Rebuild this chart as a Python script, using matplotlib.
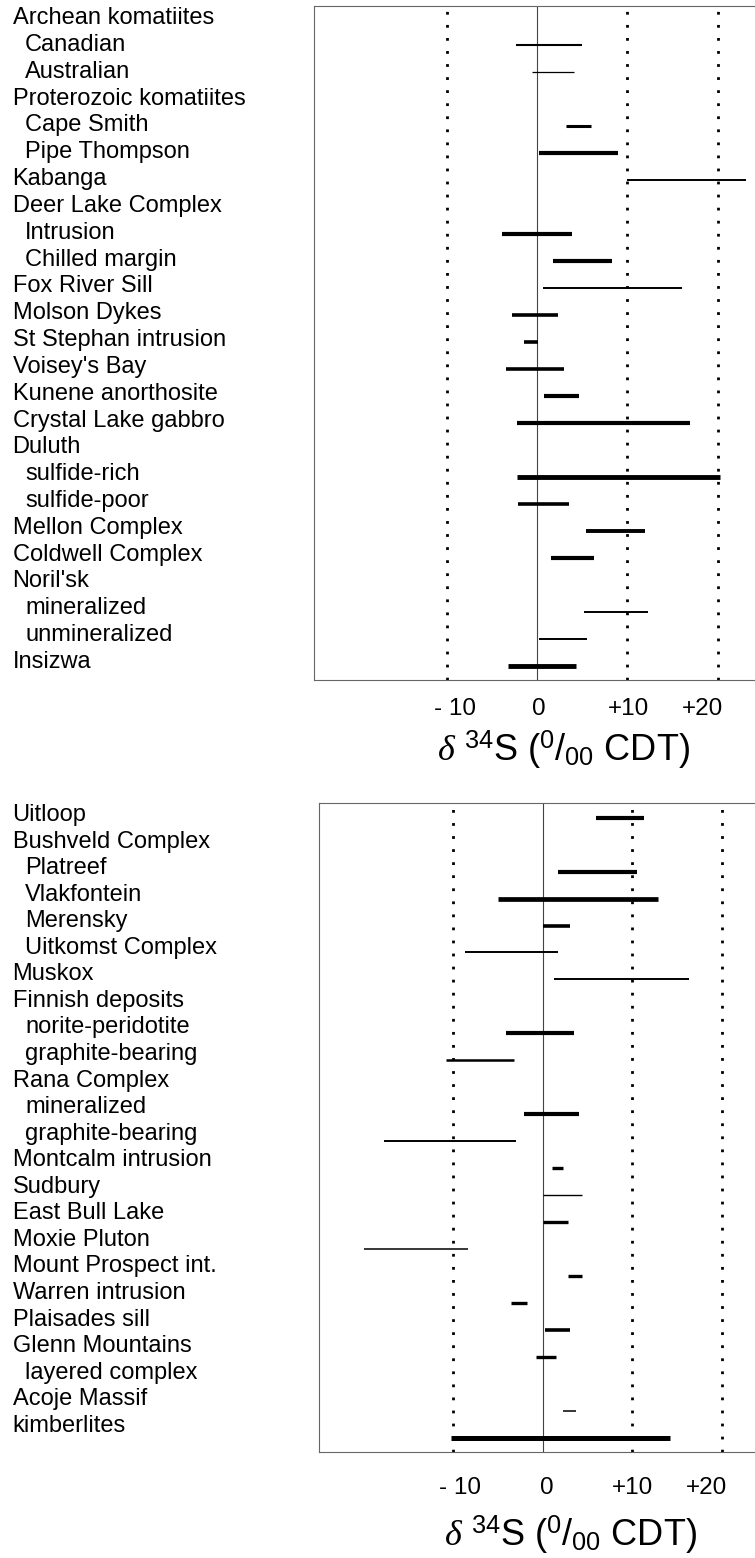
import matplotlib.pyplot as plt
from matplotlib import transforms

plt.rcParams['font.family'] = ['Liberation Sans', 'DejaVu Sans']
plt.rcParams['mathtext.fontset'] = 'custom'
plt.rcParams['mathtext.rm'] = 'Liberation Sans'
plt.rcParams['mathtext.it'] = 'Liberation Serif:italic'
plt.rcParams['mathtext.bf'] = 'Liberation Sans:bold'

# Upper panel: delta34S ranges (permil CDT), None = heading row without data
top_labels = ["Archean komatiites", "Canadian", "Australian",
              "Proterozoic komatiites", "Cape Smith", "Pipe Thompson",
              "Kabanga", "Deer Lake Complex", "Intrusion", "Chilled margin",
              "Fox River Sill", "Molson Dykes", "St Stephan intrusion",
              "Voisey's Bay", "Kunene anorthosite", "Crystal Lake gabbro",
              "Duluth", "sulfide-rich", "sulfide-poor", "Mellon Complex",
              "Coldwell Complex", "Noril'sk", "mineralized", "unmineralized",
              "Insizwa"]
top_sub = [0, 1, 1, 0, 1, 1, 0, 0, 1, 1, 0, 0, 0, 0, 0, 0, 0, 1, 1, 0, 0,
           0, 1, 1, 0]
top_min = [None, -2.4, -0.6, None, 3.2, 0.2, 10.0, None, -3.9, 1.8, 0.6,
           -2.8, -1.5, -3.5, 0.8, -2.3, None, -2.3, -2.1, 5.4, 1.5, None,
           5.2, 0.2, -3.2]
top_max = [None, 5.0, 4.1, None, 6.0, 8.9, 23.1, None, 3.9, 8.3, 16.0,
           2.3, 0.1, 3.0, 4.6, 16.9, None, 20.3, 3.5, 11.9, 6.3, None,
           12.3, 5.5, 4.3]
top_lw = [0, 1.5, 0.9, 0, 2.2, 3.0, 1.4, 0, 3.0, 3.0, 1.4, 2.6, 2.6, 2.6,
          3.0, 3.0, 0, 3.5, 2.6, 2.8, 3.0, 0, 1.4, 1.4, 3.5]

# Lower panel
bot_labels = ["Uitloop", "Bushveld Complex", "Platreef", "Vlakfontein",
              "Merensky", "Uitkomst Complex", "Muskox", "Finnish deposits",
              "norite-peridotite", "graphite-bearing", "Rana Complex",
              "mineralized", "graphite-bearing", "Montcalm intrusion",
              "Sudbury", "East Bull Lake", "Moxie Pluton",
              "Mount Prospect int.", "Warren intrusion", "Plaisades sill",
              "Glenn Mountains", "layered complex", "Acoje Massif",
              "kimberlites"]
bot_sub = [0, 0, 1, 1, 1, 1, 0, 0, 1, 1, 0, 1, 1, 0, 0, 0, 0, 0, 0, 0, 0,
           1, 0, 0]
bot_min = [5.9, None, 1.7, -5.0, 0.0, -8.7, 1.2, None, -4.1, -10.8, None,
           -2.1, -17.8, 1.0, 0.0, 0.0, -20.0, 2.8, -3.6, 0.2, -0.8, None,
           2.2, -10.3]
bot_max = [11.3, None, 10.5, 12.9, 3.0, 1.7, 16.3, None, 3.5, -3.2, None,
           4.0, -3.0, 2.2, 4.4, 2.8, -8.4, 4.4, -1.8, 3.0, 1.5, None,
           3.7, 14.2]
bot_lw = [3.0, 0, 3.0, 3.4, 2.6, 1.4, 1.4, 0, 3.0, 1.8, 0, 3.0, 1.4, 2.4,
          1.0, 2.4, 1.1, 2.4, 2.4, 2.6, 2.4, 0, 1.1, 3.6]

ref_lines = [-10, 10, 20]
tick_vals = [-10, 0, 10, 20]
tick_text = ["- 10", "0", "+10", "+20"]
xlab = r'$\delta$ $^{34}$S ($^{0}$/$_{00}$ CDT)'

fig = plt.figure(figsize=(7.55, 15.58), dpi=100)


def panel(rect, labels, sub, lo, hi, lw, xlim, ylim, lab_step, lab_off,
          tick_dx, pad, label_xy):
    ax = fig.add_axes(rect)
    ax.set_xlim(*xlim)
    ax.set_ylim(*ylim)
    for x in ref_lines:
        ax.axvline(x, color='black', lw=2.0, linestyle=(0, (1, 3.7)))
    ax.axvline(0, color='#444444', lw=0.8)
    rows = list(range(1, len(labels) + 1))
    for y, a, b, w in zip(rows, lo, hi, lw):
        if a is None:
            continue
        ax.hlines(y, a, b, color='black', linewidth=w, capstyle='butt')
    # category names at left of the figure
    tr = transforms.blended_transform_factory(fig.transFigure, ax.transData)
    for y, name, s in zip(rows, labels, sub):
        ax.text(0.0166 + 0.0166 * s, 1 + lab_off + (y - 1) * lab_step, name,
                transform=tr, ha='left', va='center', fontsize=17,
                clip_on=False)
    ax.set_yticks([])
    ax.set_xticks(tick_vals)
    ax.set_xticklabels(tick_text, fontsize=17.5)
    ax.tick_params(axis='x', length=0, pad=pad)
    for t, dx in zip(ax.get_xticklabels(), tick_dx):
        t.set_transform(t.get_transform() +
                        transforms.ScaledTranslation(dx / 100, 0,
                                                     fig.dpi_scale_trans))
    for sp in ax.spines.values():
        sp.set_color('#666666')
        sp.set_linewidth(0.8)
    ax.set_xlabel(xlab, fontsize=26)
    ax.xaxis.label.set_va('center')
    ax.xaxis.set_label_coords(*label_xy)
    return ax


panel([0.4159, 0.5635, 0.5944, 0.4326], top_labels, top_sub, top_min,
      top_max, top_lw, (-24.75, 25), (25.517, 0.544), 0.994, -0.01,
      [8, 2, 1, -15], 13, (0.557, -0.104))
panel([0.4229, 0.0680, 0.5923, 0.4164], bot_labels, bot_sub, bot_min,
      bot_max, bot_lw, (-25, 25), (24.53, 0.466), 0.985, -0.1,
      [7, 4, 0, -15], 18, (0.5607, -0.128))

fig.savefig('out.png', dpi=100)
